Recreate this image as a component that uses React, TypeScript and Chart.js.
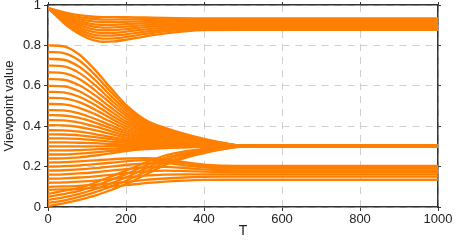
import React, { useEffect, useRef } from "react";
import { Chart, registerables } from "chart.js";

Chart.register(...registerables);

const upperTimes = [0, 20, 50, 80, 110, 140, 170, 200, 250, 300, 400, 500, 1000];
const mainTimes = [0, 40, 80, 120, 160, 200, 250, 300, 350, 400, 450, 500, 1000];

// Upper group: starts near 1, dips, settles in 0.88–0.93
const upperLines = [
  [0.985, 0.975, 0.960, 0.950, 0.943, 0.940, 0.940, 0.940, 0.938, 0.936, 0.934, 0.934, 0.934],
  [0.985, 0.972, 0.953, 0.940, 0.932, 0.928, 0.928, 0.929, 0.930, 0.929, 0.928, 0.928, 0.928],
  [0.985, 0.969, 0.945, 0.930, 0.920, 0.915, 0.915, 0.917, 0.920, 0.921, 0.921, 0.921, 0.921],
  [0.985, 0.966, 0.938, 0.920, 0.907, 0.902, 0.902, 0.905, 0.910, 0.913, 0.915, 0.915, 0.915],
  [0.985, 0.963, 0.931, 0.910, 0.895, 0.888, 0.889, 0.893, 0.900, 0.905, 0.908, 0.908, 0.908],
  [0.985, 0.960, 0.924, 0.900, 0.882, 0.875, 0.876, 0.881, 0.890, 0.897, 0.902, 0.902, 0.902],
  [0.985, 0.957, 0.917, 0.889, 0.869, 0.861, 0.862, 0.868, 0.879, 0.888, 0.895, 0.896, 0.896],
  [0.985, 0.954, 0.910, 0.878, 0.856, 0.848, 0.849, 0.855, 0.868, 0.879, 0.889, 0.889, 0.889],
  [0.985, 0.951, 0.902, 0.867, 0.843, 0.834, 0.835, 0.842, 0.857, 0.870, 0.882, 0.883, 0.883],
  [0.985, 0.948, 0.895, 0.856, 0.830, 0.818, 0.820, 0.828, 0.845, 0.860, 0.876, 0.877, 0.877],
];

// Middle group: lines from 0.24–0.80 converging to 0.30
const convergingLines = [
  [0.800, 0.795, 0.755, 0.680, 0.591, 0.506, 0.431, 0.392, 0.362, 0.337, 0.317, 0.303, 0.302],
  [0.767, 0.762, 0.725, 0.655, 0.572, 0.493, 0.423, 0.386, 0.358, 0.335, 0.316, 0.303, 0.302],
  [0.733, 0.729, 0.694, 0.630, 0.552, 0.479, 0.414, 0.380, 0.354, 0.332, 0.315, 0.303, 0.302],
  [0.700, 0.696, 0.664, 0.604, 0.533, 0.465, 0.405, 0.374, 0.350, 0.330, 0.314, 0.303, 0.302],
  [0.667, 0.663, 0.634, 0.579, 0.514, 0.452, 0.397, 0.368, 0.346, 0.328, 0.313, 0.303, 0.302],
  [0.633, 0.630, 0.603, 0.554, 0.494, 0.438, 0.388, 0.362, 0.342, 0.325, 0.312, 0.303, 0.302],
  [0.600, 0.597, 0.573, 0.528, 0.475, 0.424, 0.379, 0.356, 0.338, 0.323, 0.311, 0.303, 0.302],
  [0.570, 0.567, 0.546, 0.506, 0.457, 0.412, 0.372, 0.350, 0.334, 0.321, 0.310, 0.303, 0.302],
  [0.540, 0.538, 0.519, 0.483, 0.440, 0.400, 0.364, 0.345, 0.331, 0.319, 0.309, 0.303, 0.302],
  [0.510, 0.508, 0.491, 0.460, 0.423, 0.387, 0.356, 0.339, 0.327, 0.317, 0.308, 0.303, 0.302],
  [0.480, 0.478, 0.464, 0.437, 0.405, 0.375, 0.348, 0.334, 0.323, 0.314, 0.307, 0.303, 0.302],
  [0.455, 0.453, 0.441, 0.418, 0.391, 0.365, 0.342, 0.330, 0.320, 0.313, 0.307, 0.302, 0.302],
  [0.430, 0.429, 0.418, 0.399, 0.376, 0.354, 0.335, 0.325, 0.317, 0.311, 0.306, 0.302, 0.302],
  [0.405, 0.404, 0.396, 0.380, 0.362, 0.344, 0.329, 0.321, 0.314, 0.309, 0.305, 0.302, 0.302],
  [0.380, 0.379, 0.373, 0.361, 0.347, 0.334, 0.322, 0.316, 0.311, 0.307, 0.304, 0.302, 0.302],
  [0.360, 0.359, 0.355, 0.346, 0.336, 0.326, 0.317, 0.312, 0.309, 0.306, 0.304, 0.302, 0.302],
  [0.340, 0.340, 0.337, 0.331, 0.324, 0.318, 0.312, 0.309, 0.307, 0.305, 0.303, 0.302, 0.302],
  [0.320, 0.320, 0.318, 0.316, 0.312, 0.309, 0.307, 0.305, 0.304, 0.303, 0.303, 0.302, 0.302],
  [0.300, 0.300, 0.300, 0.300, 0.301, 0.301, 0.301, 0.302, 0.302, 0.302, 0.302, 0.302, 0.302],
  [0.280, 0.280, 0.282, 0.285, 0.289, 0.293, 0.296, 0.298, 0.299, 0.300, 0.301, 0.302, 0.302],
  [0.260, 0.260, 0.264, 0.270, 0.278, 0.285, 0.291, 0.294, 0.297, 0.299, 0.301, 0.302, 0.302],
  [0.240, 0.241, 0.246, 0.255, 0.266, 0.277, 0.286, 0.291, 0.295, 0.298, 0.300, 0.302, 0.302],
];

// Lines starting near 0 that rise through the lower band into 0.30
const risingLines = [
  [0.065, 0.080, 0.095, 0.120, 0.150, 0.180, 0.220, 0.255, 0.275, 0.288, 0.296, 0.301, 0.302],
  [0.050, 0.064, 0.080, 0.104, 0.133, 0.163, 0.205, 0.243, 0.266, 0.282, 0.293, 0.301, 0.302],
  [0.035, 0.048, 0.065, 0.088, 0.116, 0.146, 0.190, 0.232, 0.258, 0.277, 0.291, 0.300, 0.302],
  [0.020, 0.032, 0.050, 0.072, 0.100, 0.130, 0.175, 0.220, 0.250, 0.272, 0.288, 0.300, 0.302],
  [0.005, 0.018, 0.035, 0.056, 0.083, 0.113, 0.160, 0.208, 0.242, 0.267, 0.286, 0.299, 0.302],
];

// Lower band: settles in 0.13–0.20
const lowerBandLines = [
  [0.220, 0.222, 0.226, 0.231, 0.236, 0.240, 0.242, 0.236, 0.222, 0.210, 0.205, 0.203, 0.203],
  [0.200, 0.202, 0.206, 0.212, 0.219, 0.226, 0.232, 0.229, 0.216, 0.204, 0.199, 0.197, 0.197],
  [0.180, 0.182, 0.186, 0.192, 0.200, 0.208, 0.216, 0.217, 0.206, 0.196, 0.192, 0.190, 0.190],
  [0.160, 0.162, 0.166, 0.172, 0.180, 0.188, 0.196, 0.199, 0.193, 0.186, 0.183, 0.181, 0.181],
  [0.140, 0.142, 0.146, 0.152, 0.159, 0.167, 0.176, 0.180, 0.178, 0.175, 0.173, 0.172, 0.172],
  [0.120, 0.122, 0.126, 0.131, 0.138, 0.146, 0.155, 0.160, 0.162, 0.162, 0.162, 0.162, 0.162],
  [0.100, 0.102, 0.105, 0.110, 0.116, 0.124, 0.134, 0.141, 0.146, 0.149, 0.150, 0.150, 0.150],
  [0.085, 0.087, 0.090, 0.095, 0.101, 0.108, 0.118, 0.126, 0.131, 0.134, 0.135, 0.135, 0.135],
];

const xTickValues = [0, 200, 400, 600, 800, 1000];
const yTickValues = [0, 0.2, 0.4, 0.6, 0.8, 1];

const LINE_COLOR = "#ff8000";
const AXIS_COLOR = "#333333";
const GRID_COLOR = "#cfcfcf";
const FONT = "'Liberation Sans', Arial, sans-serif";

export default function App() {
  const canvasRef = useRef<HTMLCanvasElement | null>(null);

  useEffect(() => {
    document.body.style.margin = "0";
    const canvas = canvasRef.current;
    if (!canvas) return;

    const toDataset = (times: number[], values: number[]) => ({
      data: values.map((v, i) => ({ x: times[i], y: v })),
      borderColor: LINE_COLOR,
      borderWidth: 2.3,
      pointRadius: 0,
      fill: false,
      cubicInterpolationMode: "monotone" as const,
    });

    const datasets = [
      ...upperLines.map((l) => toDataset(upperTimes, l)),
      ...convergingLines.map((l) => toDataset(mainTimes, l)),
      ...risingLines.map((l) => toDataset(mainTimes, l)),
      ...lowerBandLines.map((l) => toDataset(mainTimes, l)),
    ];

    const setTicks = (vals: number[]) => (scale: any) => {
      scale.ticks = vals.map((v) => ({ value: v }));
    };
    const fmt = (v: any) => String(Math.round(Number(v) * 1000) / 1000);

    const chart = new Chart(canvas, {
      type: "line",
      data: { datasets },
      options: {
        animation: false,
        responsive: true,
        maintainAspectRatio: false,
        layout: { padding: 0 },
        plugins: { legend: { display: false }, tooltip: { enabled: false } },
        scales: {
          x: {
            type: "linear",
            position: "bottom",
            min: 0,
            max: 1000,
            afterBuildTicks: setTicks(xTickValues),
            afterFit: (scale: any) => {
              scale.height = 33;
              scale.paddingLeft = 0;
              scale.paddingRight = 0;
            },
            grid: {
              color: GRID_COLOR,
              lineWidth: 1,
              drawTicks: true,
              tickLength: 4,
              tickColor: AXIS_COLOR,
              tickWidth: 1,
              tickBorderDash: [],
            },
            border: { display: true, color: AXIS_COLOR, width: 1.5, dash: [7, 6] },
            ticks: {
              color: "#222",
              font: { family: FONT, size: 13 },
              padding: 1,
              maxRotation: 0,
              callback: fmt,
            },
            title: {
              display: true,
              text: "T",
              color: "#222",
              font: { family: FONT, size: 14 },
              padding: { top: 0, bottom: 0 },
            },
          },
          x2: {
            type: "linear",
            position: "top",
            min: 0,
            max: 1000,
            afterBuildTicks: setTicks(xTickValues),
            afterFit: (scale: any) => {
              scale.height = 5;
              scale.paddingLeft = 0;
              scale.paddingRight = 0;
            },
            grid: {
              drawOnChartArea: false,
              drawTicks: true,
              tickLength: 3,
              tickColor: AXIS_COLOR,
            },
            border: { display: true, color: AXIS_COLOR, width: 1.5 },
            ticks: { display: false },
          },
          y: {
            type: "linear",
            position: "left",
            min: 0,
            max: 1,
            afterBuildTicks: setTicks(yTickValues),
            afterFit: (scale: any) => {
              scale.width = 48;
              scale.paddingTop = 0;
              scale.paddingBottom = 0;
            },
            grid: {
              color: GRID_COLOR,
              lineWidth: 1,
              drawTicks: true,
              tickLength: 4,
              tickColor: AXIS_COLOR,
              tickWidth: 1,
              tickBorderDash: [],
            },
            border: { display: true, color: AXIS_COLOR, width: 1.5, dash: [7, 6] },
            ticks: {
              color: "#222",
              font: { family: FONT, size: 13 },
              padding: 3,
              callback: fmt,
            },
            title: {
              display: true,
              text: "Viewpoint value",
              color: "#222",
              font: { family: FONT, size: 13 },
              padding: { top: 2, bottom: 0 },
            },
          },
          y2: {
            type: "linear",
            position: "right",
            min: 0,
            max: 1,
            afterBuildTicks: setTicks(yTickValues),
            afterFit: (scale: any) => {
              scale.width = 19;
              scale.paddingTop = 0;
              scale.paddingBottom = 0;
            },
            grid: {
              drawOnChartArea: false,
              drawTicks: true,
              tickLength: 3,
              tickColor: AXIS_COLOR,
            },
            border: { display: true, color: AXIS_COLOR, width: 1.5 },
            ticks: { display: false },
          },
        },
      } as any,
    });

    return () => chart.destroy();
  }, []);

  return (
    <div style={{ position: "relative", width: 457, height: 240 }}>
      <canvas ref={canvasRef} />
    </div>
  );
}
